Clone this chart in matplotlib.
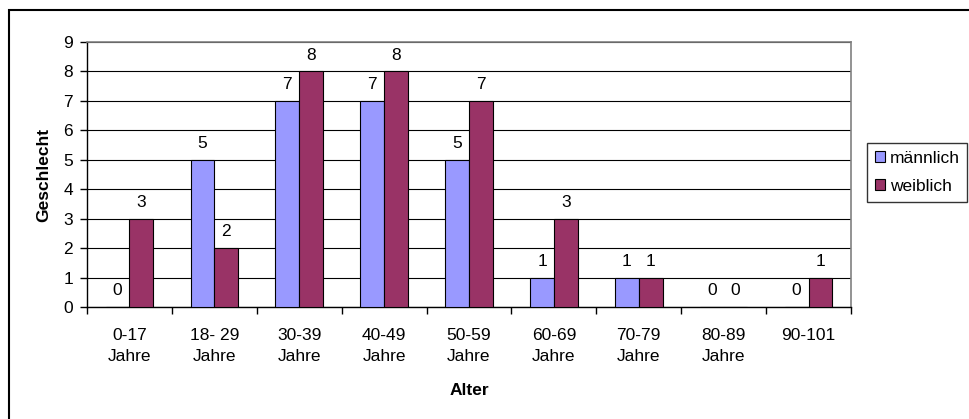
import matplotlib
matplotlib.use("Agg")
import matplotlib.pyplot as plt
from matplotlib.patches import Rectangle
import numpy as np

plt.rcParams['font.family'] = ['Liberation Sans', 'DejaVu Sans']

categories = ["0-17\nJahre", "18- 29\nJahre", "30-39\nJahre", "40-49\nJahre",
              "50-59\nJahre", "60-69\nJahre", "70-79\nJahre", "80-89\nJahre", "90-101"]
maennlich = [0, 5, 7, 7, 5, 1, 1, 0, 0]
weiblich = [3, 2, 8, 8, 7, 3, 1, 0, 1]

FS = 12.5
W, H = 969, 419
fig = plt.figure(figsize=(W / 100, H / 100), dpi=100)
fig.patch.set_facecolor("white")

# outer chart frame, runs off the right and bottom edges
fig.patches.append(Rectangle((9 / W, -0.1), 1.1, (H - 10) / H + 0.1,
                             transform=fig.transFigure, fill=False,
                             edgecolor="black", linewidth=1.5))

ax = fig.add_axes([87 / W, (H - 307) / H, (851 - 87) / W, (307 - 42) / H])
x = np.arange(len(categories))
bw = 0.28
b1 = ax.bar(x - bw / 2, maennlich, bw, color="#9999FF", edgecolor="black",
            linewidth=0.8, label="männlich", zorder=3)
b2 = ax.bar(x + bw / 2, weiblich, bw, color="#993366", edgecolor="black",
            linewidth=0.8, label="weiblich", zorder=3)

for bars, vals in ((b1, maennlich), (b2, weiblich)):
    for r, v in zip(bars, vals):
        ax.text(r.get_x() + r.get_width() / 2, v + 0.3, str(v),
                ha="center", va="bottom", fontsize=FS, zorder=4)

ax.set_xlim(-0.5, len(categories) - 0.5)
ax.set_ylim(0, 9)
ax.set_yticks(range(10))
ax.yaxis.grid(True, color="black", linewidth=0.8, zorder=0)
ax.set_axisbelow(True)

ax.set_xticks(np.arange(len(categories) + 1) - 0.5)
ax.set_xticklabels([])
ax.set_xticks(x, minor=True)
ax.set_xticklabels(categories, minor=True, fontsize=FS, linespacing=1.5)
ax.tick_params(axis="x", which="minor", length=0, pad=15)
ax.tick_params(axis="x", which="major", direction="out", length=5, width=1)
ax.tick_params(axis="y", direction="out", length=5, width=1, labelsize=FS, pad=5)

for s in ("top", "right"):
    ax.spines[s].set_color("#808080")
    ax.spines[s].set_linewidth(1.2)
for s in ("left", "bottom"):
    ax.spines[s].set_color("black")
    ax.spines[s].set_linewidth(1)

ax.set_ylabel("Geschlecht", fontsize=FS, fontweight="bold", labelpad=9)
ax.set_xlabel("Alter", fontsize=FS, fontweight="bold", labelpad=14)

leg = fig.legend(loc="upper left", bbox_to_anchor=(867 / W, (H - 143) / H),
                 fontsize=FS, frameon=True, fancybox=False, edgecolor="black",
                 handlelength=0.6, handleheight=0.6, handletextpad=0.25,
                 borderpad=0.45, labelspacing=0.75, borderaxespad=0)
leg.get_frame().set_linewidth(1)

fig.savefig("out.png", dpi=100, facecolor="white")
